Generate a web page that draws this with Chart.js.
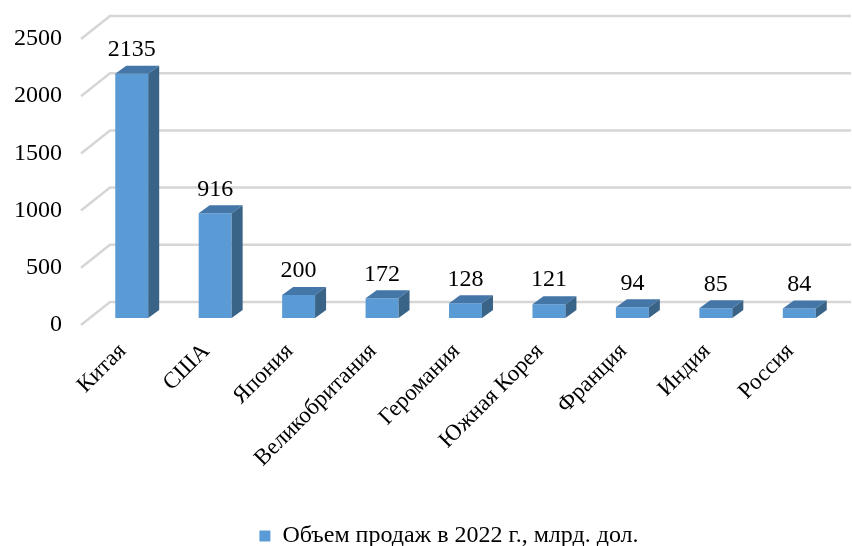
<!DOCTYPE html>
<html><head><meta charset="utf-8">
<script src="https://cdn.jsdelivr.net/npm/chart.js@4/dist/chart.umd.min.js"></script>
<style>html,body{margin:0;padding:0;background:#fff}#wrap{width:852px;height:546px}</style>
</head><body><div id="wrap"><canvas id="c" width="852" height="546"></canvas></div>
<script>
const categories = ["Китая","США","Япония","Великобритания","Героmания".replace("m","м"),"Южная Корея","Франция","Индия","Россия"];
const salesValues = [2135, 916, 200, 172, 128, 121, 94, 85, 84];
const yTicks = [0, 500, 1000, 1500, 2000, 2500];
const seriesLabel = "Объем продаж в 2022 г., млрд. дол.";

const FONT = "'Liberation Serif','Times New Roman',serif";
const BAR_SHIFT = {x: 9, y: -7};     // bar plane inside the 3D depth
const BACK_SHIFT = {x: 29, y: -23};  // back wall
const FACE = {x: 11, y: -8};         // bar depth
const C_FRONT = '#5b9bd5', C_TOP = '#4576a8', C_SIDE = '#3a6487';

const threeD = {
  id: 'threeD',
  afterLayout(chart) {
    if (chart.legend) { chart.legend.left += 33; chart.legend.right += 33; }
  },
  beforeDatasetsDraw(chart) {
    const ctx = chart.ctx, ys = chart.scales.y, ca = chart.chartArea;
    ctx.save();
    ctx.strokeStyle = '#d6d6d6';
    ctx.lineWidth = 2.5;
    yTicks.forEach(v => {
      const y = ys.getPixelForValue(v);
      ctx.beginPath();
      ctx.moveTo(ca.left, y);
      ctx.lineTo(ca.left + BACK_SHIFT.x, y + BACK_SHIFT.y);
      ctx.lineTo(chart.width - 1, y + BACK_SHIFT.y);
      ctx.stroke();
    });
    ctx.restore();
    ctx.save();
    ctx.translate(BAR_SHIFT.x, BAR_SHIFT.y);
  },
  afterDatasetsDraw(chart) {
    const ctx = chart.ctx;
    const meta = chart.getDatasetMeta(0);
    meta.data.forEach((bar, i) => {
      const p = bar.getProps(['x','y','base','width'], true);
      const xL = p.x - p.width/2, xR = p.x + p.width/2, yT = p.y, yB = p.base;
      ctx.fillStyle = C_TOP;
      ctx.beginPath();
      ctx.moveTo(xL, yT); ctx.lineTo(xL + FACE.x, yT + FACE.y);
      ctx.lineTo(xR + FACE.x, yT + FACE.y); ctx.lineTo(xR, yT); ctx.closePath(); ctx.fill();
      ctx.fillStyle = C_SIDE;
      ctx.beginPath();
      ctx.moveTo(xR, yT); ctx.lineTo(xR + FACE.x, yT + FACE.y);
      ctx.lineTo(xR + FACE.x, yB + FACE.y); ctx.lineTo(xR, yB); ctx.closePath(); ctx.fill();
      ctx.fillStyle = '#000';
      ctx.font = "24px " + FONT;
      ctx.textAlign = 'center';
      ctx.textBaseline = 'middle';
      ctx.fillText(String(salesValues[i]), p.x, yT - 24);
    });
    ctx.restore();
  }
};

new Chart(document.getElementById('c'), {
  type: 'bar',
  data: {
    labels: categories,
    datasets: [{
      label: seriesLabel,
      data: salesValues,
      backgroundColor: C_FRONT,
      borderColor: C_FRONT,
      borderWidth: 0,
      barPercentage: 0.395,
      categoryPercentage: 1
    }]
  },
  options: {
    responsive: false,
    animation: false,
    layout: { padding: { top: 39, right: 20, left: 0, bottom: -12 } },
    plugins: {
      legend: {
        position: 'bottom',
        labels: { boxWidth: 11, boxHeight: 11, color: '#000', font: { family: FONT, size: 24 }, padding: 4 }
      },
      tooltip: { enabled: false }
    },
    scales: {
      y: {
        min: 0, max: 2500,
        afterFit: s => { s.width = 81; },
        afterBuildTicks: s => { s.ticks = yTicks.map(v => ({value: v})); },
        grid: { display: false },
        border: { display: false },
        ticks: { color: '#000', font: { family: FONT, size: 24 }, padding: 11, callback: v => String(v) }
      },
      x: {
        afterFit: s => { s.height = 195; },
        grid: { display: false },
        border: { display: false },
        ticks: { color: '#000', font: { family: FONT, size: 23 }, minRotation: 45, maxRotation: 45, padding: 5, autoSkip: false }
      }
    }
  },
  plugins: [threeD]
});
</script>
</body></html>
